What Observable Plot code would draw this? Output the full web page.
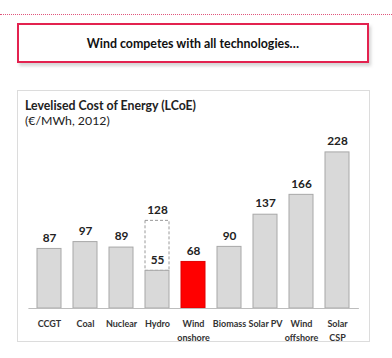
<!DOCTYPE html>
<html>
<head>
<meta charset="utf-8">
<script src="https://cdn.jsdelivr.net/npm/d3@7"></script>
<script src="https://cdn.jsdelivr.net/npm/@observablehq/plot@0.6"></script>
<style>
  html, body { margin: 0; padding: 0; background: #fff; }
  body { width: 392px; height: 358px; position: relative; overflow: hidden; font-family: Lato, "Open Sans", sans-serif; }
  #dots { position: absolute; left: 0; top: 14px; width: 392px; border-top: 1px dotted #e0567c; }
  #headline { position: absolute; left: 17px; top: 23px; width: 348px; height: 36px; border: 2px solid #e3224f;
    box-shadow: 2px 3px 3px rgba(150,150,150,0.4); display: flex; align-items: center; justify-content: center;
    font-weight: bold; font-size: 12.4px; color: #111; background: #fff; }
  #panel { position: absolute; left: 17px; top: 90px; width: 351px; height: 250px; border: 1px solid #dcdcdc; }
  #ptitle { position: absolute; left: 25px; top: 98px; font-weight: bold; font-size: 12.3px; color: #222; }
  #psub { position: absolute; left: 25px; top: 113px; font-size: 12.3px; color: #222; }
  #chart { position: absolute; left: 0; top: 130px; }
</style>
</head>
<body>
<div id="dots"></div>
<div id="headline">Wind competes with all technologies…</div>
<div id="panel"></div>
<div id="ptitle">Levelised Cost of Energy (LCoE)</div>
<div id="psub">(€/MWh, 2012)</div>
<div id="chart"></div>
<script>
const categories = ["CCGT", "Coal", "Nuclear", "Hydro", "Wind onshore", "Biomass", "Solar PV", "Wind offshore", "Solar CSP"];
const values = [87, 97, 89, 55, 68, 90, 137, 166, 228];
const tickLabels = ["CCGT", "Coal", "Nuclear", "Hydro", "Wind\nonshore", "Biomass", "Solar PV", "Wind\noffshore", "Solar\nCSP"];
const highlighted = "Wind onshore";
const hydroRange = {category: "Hydro", low: 55, high: 128};

const data = categories.map((c, i) => ({category: c, value: values[i]}));
const labelOf = new Map(categories.map((c, i) => [c, tickLabels[i]]));

const plot = Plot.plot({
  width: 392,
  height: 215,
  marginLeft: 28.4,
  marginRight: 33.1,
  marginTop: 0,
  marginBottom: 37,
  style: {fontFamily: "Lato, 'Open Sans', sans-serif", background: "transparent"},
  x: {domain: categories, paddingInner: 0.32, paddingOuter: 0.2, axis: null},
  y: {domain: [0, 260], axis: null},
  marks: [
    Plot.rectY([hydroRange], {x: "category", y1: "low", y2: "high", fill: "white", stroke: "#9a9a9a", strokeDasharray: "3,2", strokeWidth: 1}),
    Plot.barY(data, {x: "category", y: "value",
      fill: d => d.category === highlighted ? "#ff0000" : "#d9d9d9",
      stroke: d => d.category === highlighted ? "#e00000" : "#a8a8a8", strokeWidth: 1}),
    Plot.ruleY([0], {stroke: "#bdbdbd", strokeWidth: 1}),
    Plot.text(data, {x: "category", y: "value", text: d => String(d.value), dy: -11, fontSize: 11.8, fontWeight: "bold", fill: "#222"}),
    Plot.text([hydroRange], {x: "category", y: "high", text: d => String(d.high), dy: -11, fontSize: 11.8, fontWeight: "bold", fill: "#222"}),
    Plot.axisX({tickSize: 0, tickPadding: 9, fontSize: 9, fontWeight: "bold", fill: "#333", lineHeight: 1.5, tickFormat: c => labelOf.get(c), label: null})
  ]
});
document.getElementById("chart").appendChild(plot);
</script>
</body>
</html>
